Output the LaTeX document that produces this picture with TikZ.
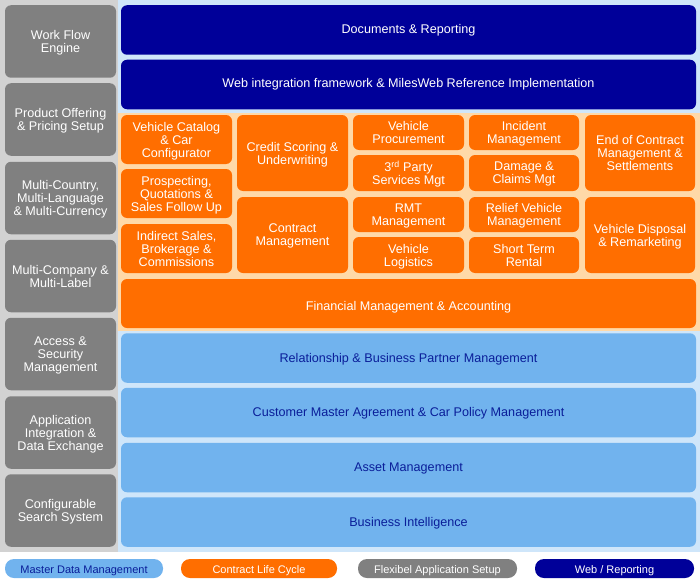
\documentclass[tikz,border=0pt]{standalone}
\usepackage{fontspec}
\setmainfont{Liberation Sans}
\usepackage{tikz}
\usetikzlibrary{positioning}
\definecolor{navyblue}{HTML}{000099}
\definecolor{lifeorange}{HTML}{FF6E00}
\definecolor{masterblue}{HTML}{71B3EE}
\definecolor{skyback}{HTML}{CFE6FA}
\definecolor{peachback}{HTML}{FFD9A8}
\definecolor{setupgray}{HTML}{808080}
\definecolor{panelgray}{HTML}{D2D2D2}
\definecolor{darktext}{HTML}{0A1E99}
\tikzset{x=1pt, y=-1pt}
\tikzset{box/.style={rectangle, rounded corners=6pt, inner sep=0pt, outer sep=0pt, align=center,
		font=\fontsize{12.6}{13}\selectfont}}
% a taller first line pushes the text a little down in its box
\tikzset{lowtext/.style={execute at begin node={\rule{0pt}{#1}}}}
\tikzset{setupbox/.style={box, fill=setupgray, text=white, minimum width=111pt, minimum height=72.5pt, lowtext=13pt, text depth=-1pt}}
\tikzset{webbox/.style={box, fill=navyblue, text=white, minimum width=575pt, minimum height=49.5pt}}
\tikzset{lifebox/.style={box, fill=lifeorange, text=white, minimum width=111pt, lowtext=13pt, text depth=-1pt}}
\tikzset{masterbox/.style={box, fill=masterblue, text=darktext, minimum width=575pt, minimum height=49.5pt, lowtext=11.5pt}}
\tikzset{keybox/.style={box, rounded corners=9pt, minimum height=19pt, minimum width=158pt, lowtext=11.5pt,
		font=\fontsize{11}{13}\selectfont}}

\begin{document}
\begin{tikzpicture}
		\useasboundingbox (0,0) rectangle (700,583);
		% backgrounds
		\fill[white] (0,0) rectangle (700,583);
		\fill[panelgray] (0,0) rectangle (118,552);
		\fill[skyback] (118,0) rectangle (700,552);
		\fill[peachback] (118,112.5) rectangle (700,330.5);

		% left column
		\node[setupbox] (wf) at (60.5, 41.5) {Work Flow\\Engine};
		\node[setupbox] (po) at (60.5, 119.5) {Product Offering\\\& Pricing Setup};
		\node[setupbox] (mc) at (60.5, 198) {Multi-Country,\\Multi-Language\\\& Multi-Currency};
		\node[setupbox] (ml) at (60.5, 276) {Multi-Company \&\\Multi-Label};
		\node[setupbox] (as) at (60.5, 354) {Access \&\\Security\\Management};
		\node[setupbox] (ai) at (60.5, 432.5) {Application\\Integration \&\\Data Exchange};
		\node[setupbox] (cs) at (60.5, 510.5) {Configurable\\Search System};

		% web / reporting
		\node[webbox] (docs) at (408.5, 30) {Documents \& Reporting};
		\node[webbox] (wif) at (408.5, 84.5) {Web integration framework \& MilesWeb Reference Implementation};

		% contract life cycle
		\begin{scope}[every node/.append style={lifebox}]
			\node[minimum height=49pt] (vc) at (176.5, 139.5) {Vehicle Catalog\\\& Car\\Configurator};
			\node[minimum height=49pt] (pq) at (176.5, 193.5) {Prospecting,\\Quotations \&\\Sales Follow Up};
			\node[minimum height=49pt] (is) at (176.5, 248.5) {Indirect Sales,\\Brokerage \&\\Commissions};
			\node[minimum height=76pt] (cr) at (292.5, 153) {Credit Scoring \&\\Underwriting};
			\node[minimum height=76pt] (cm) at (292.5, 235) {Contract\\Management};
			\node[minimum height=35pt] (vp) at (408.5, 132.5) {Vehicle\\Procurement};
			\node[minimum height=36pt] (tp) at (408.5, 173) {3\textsuperscript{rd} Party\\Services Mgt};
			\node[minimum height=35pt] (rmt) at (408.5, 214.5) {RMT\\Management};
			\node[minimum height=36pt] (vl) at (408.5, 255) {Vehicle\\Logistics};
			\node[minimum height=35pt, minimum width=110pt] (im) at (524, 132.5) {Incident\\Management};
			\node[minimum height=36pt, minimum width=110pt] (dc) at (524, 173) {Damage \&\\Claims Mgt};
			\node[minimum height=35pt, minimum width=110pt] (rv) at (524, 214.5) {Relief Vehicle\\Management};
			\node[minimum height=36pt, minimum width=110pt] (st) at (524, 255) {Short Term\\Rental};
			\node[minimum height=76pt, minimum width=110pt] (ec) at (640, 153) {End of Contract\\Management \&\\Settlements};
			\node[minimum height=76pt, minimum width=110pt] (vd) at (640, 235) {Vehicle Disposal\\\& Remarketing};
			\node[minimum height=49pt, minimum width=575pt] (fm) at (408.5, 303.5) {Financial Management \& Accounting};
		\end{scope}

		% master data
		\node[masterbox] (rb) at (408.5, 358) {Relationship \& Business Partner Management};
		\node[masterbox] (cma) at (408.5, 412.5) {Customer Master Agreement \& Car Policy Management};
		\node[masterbox] (am) at (408.5, 467.5) {Asset Management};
		\node[masterbox] (bi) at (408.5, 522) {Business Intelligence};

		% legend
		\node[keybox, fill=masterblue, text=darktext] (k1) at (84, 568.5) {Master Data Management};
		\node[keybox, fill=lifeorange, text=white, minimum width=156pt] (k2) at (259, 568.5) {Contract Life Cycle};
		\node[keybox, fill=setupgray, text=white, minimum width=159pt] (k3) at (437.5, 568.5) {Flexibel Application Setup};
		\node[keybox, fill=navyblue, text=white, minimum width=159pt] (k4) at (614.5, 568.5) {Web / Reporting};
	\end{tikzpicture}
\end{document}
